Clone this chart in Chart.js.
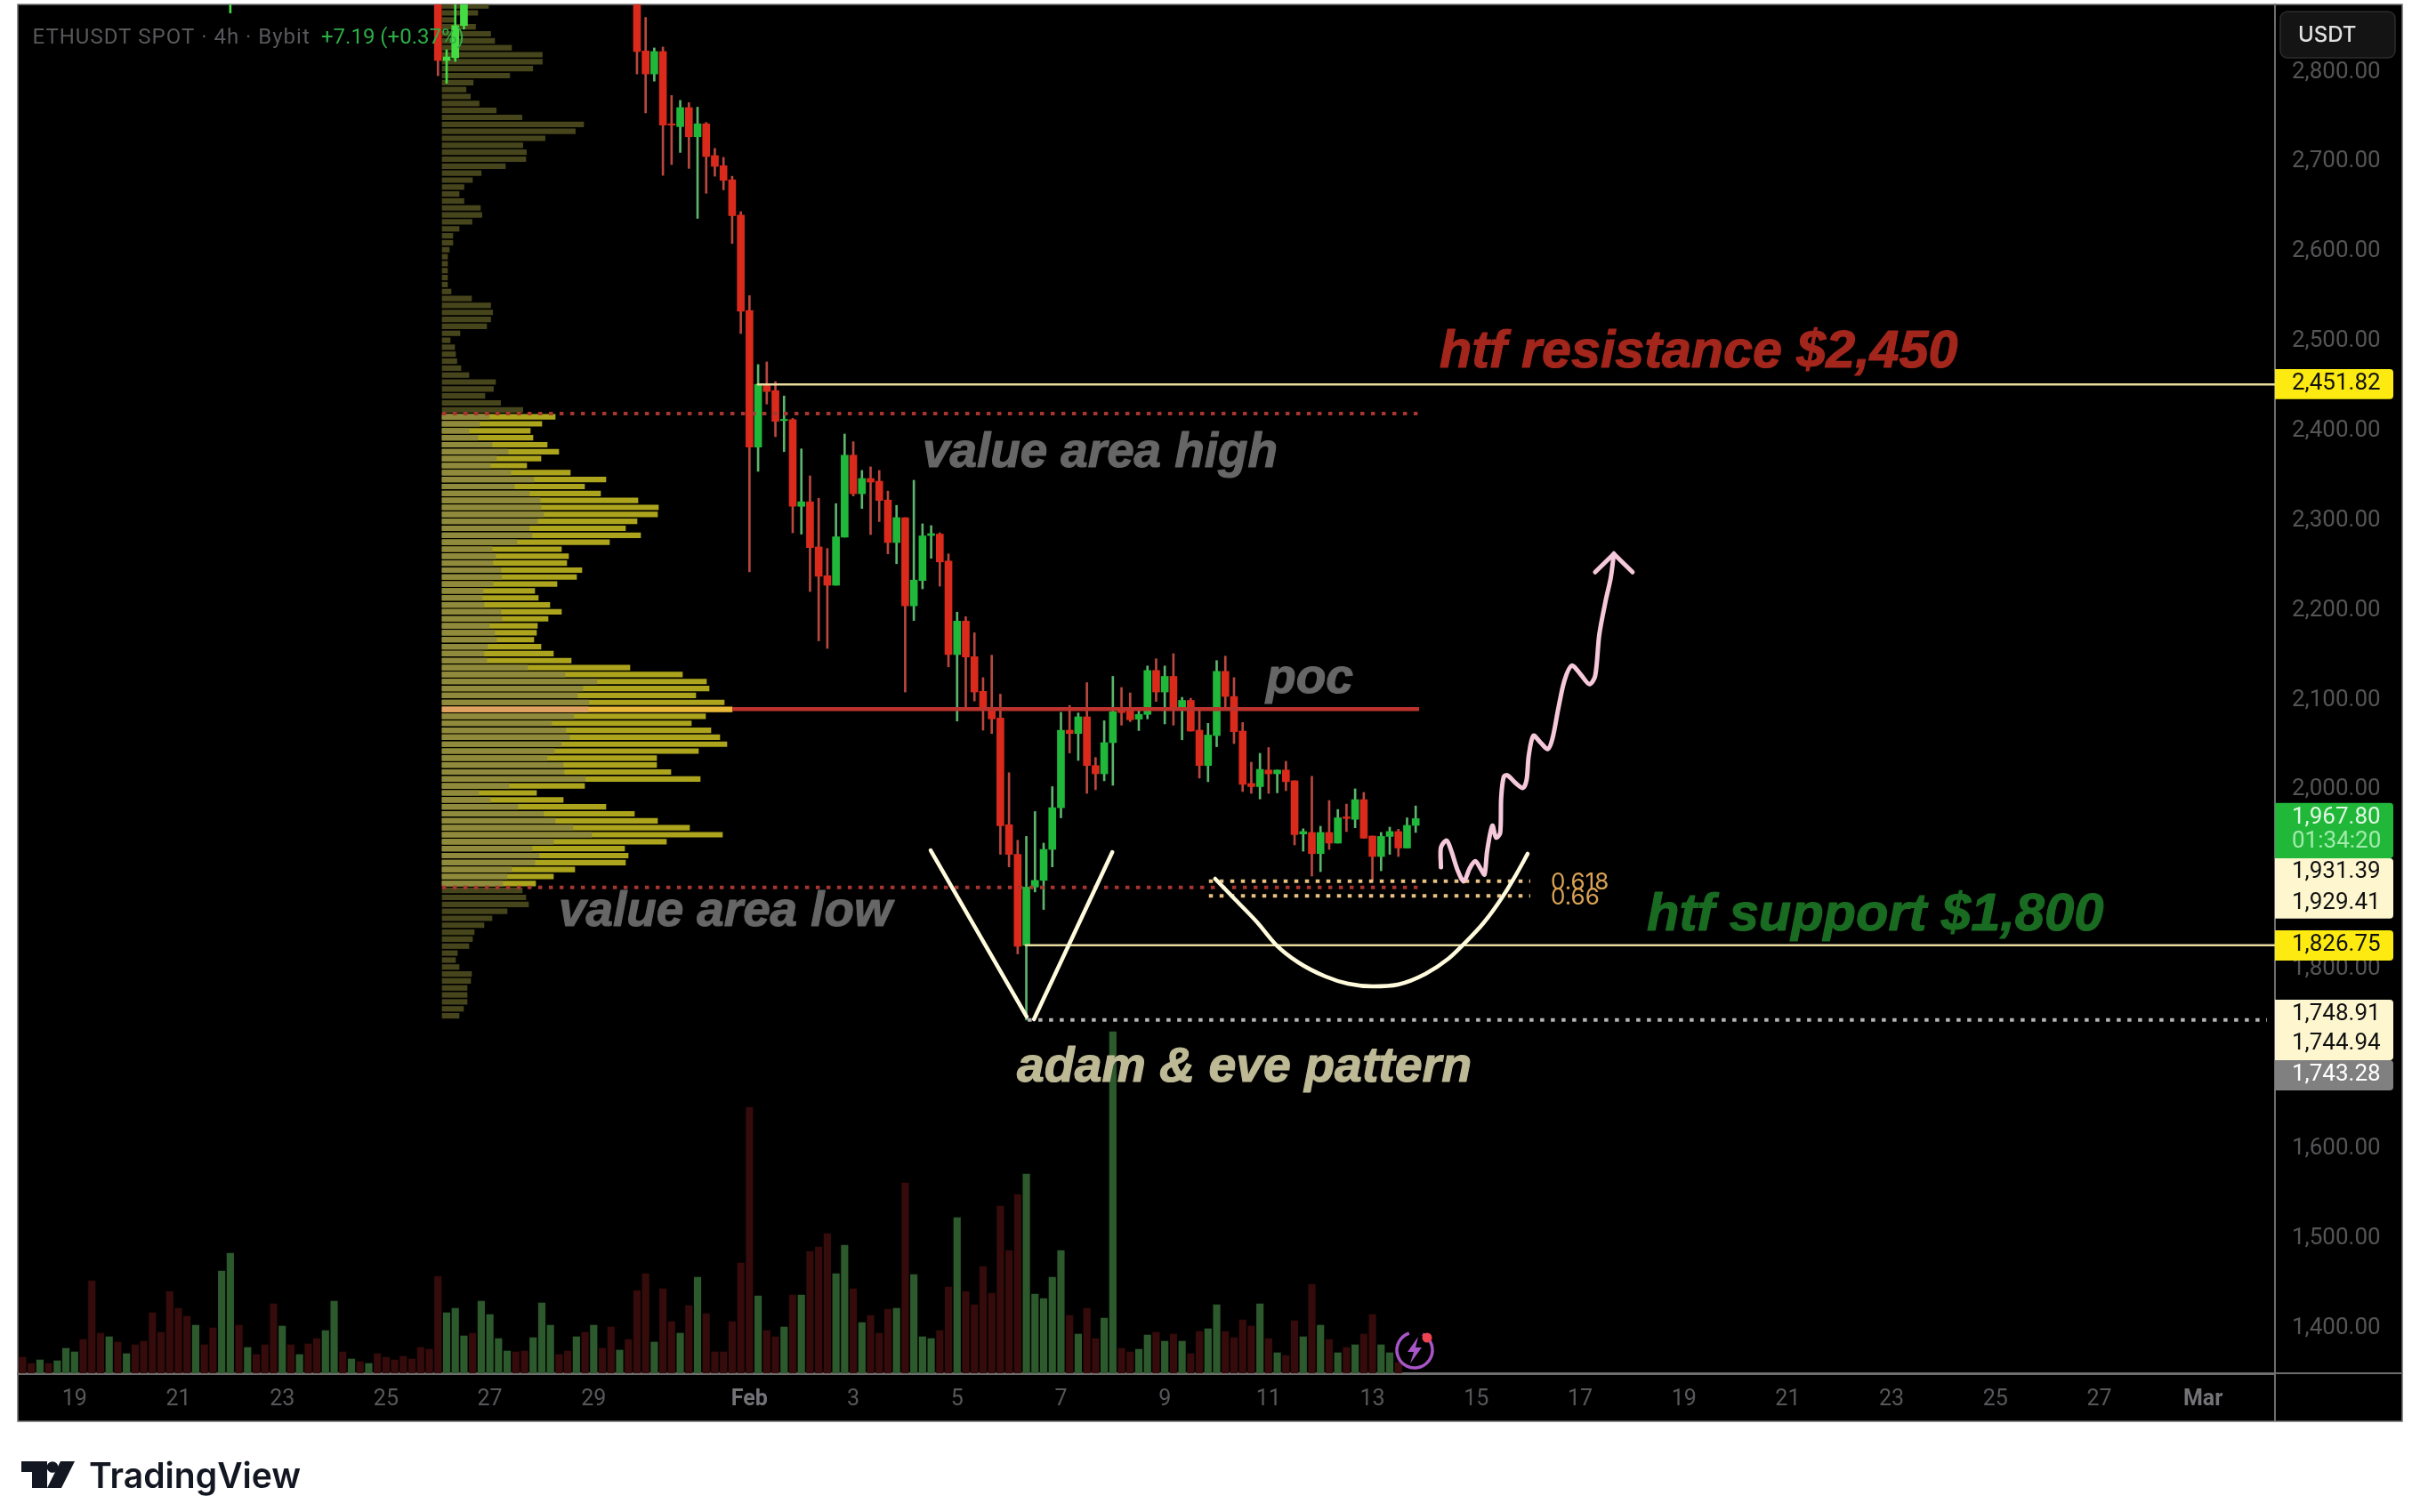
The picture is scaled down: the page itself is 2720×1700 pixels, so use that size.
<!DOCTYPE html>
<html>
<head>
<meta charset="utf-8">
<title>ETHUSDT 4h</title>
<style>html,body{margin:0;padding:0;background:#fff}canvas{display:block}</style>
<script src="https://cdn.jsdelivr.net/npm/chart.js@4/dist/chart.umd.js"></script>
</head>
<body>
<canvas id="c" width="2720" height="1700"></canvas>
<script>
// ---- time axis (days after 19 Jan; a bar is 4h) ----
const tickDays = [0,2,4,6,8,10,13,15,17,19,21,23,25,27,29,31,33,35,37,39,41];
const tickLabels = ['19','21','23','25','27','29','Feb','3','5','7','9','11','13','15','17','19','21','23','25','27','Mar'];
const priceTicks = [1400,1500,1600,1700,1800,1900,2000,2100,2200,2300,2400,2500,2600,2700,2800];
const barsPerDay = 6, firstBarOffset = 6;

// ---- candles ----
const candleBars = [24,48,49,50,51,71,72,73,74,75,76,77,78,79,80,
 81,82,83,84,85,86,87,88,89,90,91,92,93,94,95,96,97,98,99,100,
 101,102,103,104,105,106,107,108,109,110,111,112,113,114,115,116,117,118,119,120,
 121,122,123,124,125,126,127,128,129,130,131,132,133,134,135,136,137,138,139,140,
 141,142,143,144,145,146,147,148,149,150,151,152,153,154,155,156,157,158,159,160,161];
const opens = [2900,2895,2813,2816,2852,
 2940,2823.6,2798,2823,2742.4,2739.3,2760.5,2728,2742.4,2707,
 2695.7,2680,2640.6,2534.4,2382,2452,2445,2411.5,2412.5,2316,
 2321,2270.7,2238.6,2228,2281.6,2373,2330,2347,2344,2323,
 2275.6,2303.4,2205,2233.3,2283.5,2285,2255,2150.7,2188,2148.4,
 2109.7,2090.5,2080,1961,1928,1826.5,1891.5,1899,1933.5,1980,
 2066.4,2062.7,2081.3,2027,2017.8,2052.5,2089.8,2088,2078.7,2084,
 2133,2109,2126.4,2091.6,2099.6,2066.4,2027,2060.4,2132,2104,
 2065.4,2007,2003.5,2022,2017.8,2022,2010,1950.7,1952.4,1928.8,
 1952.4,1940.5,1969.8,1967,1989,1948.4,1925.6,1948,1953.4,1935,
 1960.3];
const closes = [2960,2813,2817,2852,2880,
 2823,2798,2823,2741,2741,2760.5,2728,2742.4,2706,2695,
 2679.4,2640,2533.6,2382,2452,2444,2410.7,2413,2316,2321,
 2270,2238,2228,2282,2373,2330,2347,2343,2322.5,2275.6,
 2303.4,2205,2233.7,2283,2285.5,2254,2150.7,2188,2148,2109,
 2090.5,2079,1960,1928,1825.5,1891.5,1899,1933.5,1980,2066.4,
 2062.7,2081.3,2027,2017.8,2052.5,2087,2086,2078,2084,2133,
 2109,2126.4,2089.8,2099.6,2065.4,2027,2061,2132,2104,2064.8,
 2006,2003.5,2022.7,2017.8,2022,2009,1950,1953.4,1928.8,1952.4,
 1940.5,1968.7,1968,1989,1946,1925.6,1948,1953.4,1935,1960.3,
 1967.8];
const highs = [2980,2930,2825,2890,2900,
 2950,2861,2827,2828,2774,2768.5,2766,2761,2744,2715,
 2705,2684,2644.5,2551,2474,2477,2455,2439,2414,2380,
 2350,2325,2269,2319,2396.6,2388,2356,2360,2356,2333,
 2317,2303.4,2345,2296.5,2294.5,2286.5,2263,2198,2193,2175,
 2125,2150,2106.6,2019,1943.7,1948,1975.7,1940.5,2003.5,2086.3,
 2094,2085.6,2119.4,2036,2077,2126.4,2114,2108,2090,2138,
 2146,2138,2151.7,2103,2102,2090,2074,2144,2149,2125,
 2075,2030.7,2040.6,2047,2022,2031.7,2010,1956.5,2015,1959.3,
 1988,1978,1984,2001,1997,1948.4,1952.4,1958.3,1956,1968.7,
 1982];
const lows = [2866,2796,2787.5,2812,2848,
 2798,2754.6,2790,2685,2697,2710.5,2692.7,2637,2665,2684,
 2668.8,2609,2508.6,2243,2355,2430,2393.6,2377,2286.5,2285,
 2221,2166,2157.6,2228,2281.6,2327.5,2313.6,2284.5,2299,2263,
 2252,2109,2188.7,2224,2258,2227,2137,2076.6,2090,2099,
 2066.4,2062.7,1928,1914,1817,1743.3,1886,1866.5,1914,1968.7,
 2041,2032.7,1996,2000,2010,2005,2072,2076,2066,2079,
 2098.5,2073.4,2072,2055.7,2065.4,2013,2009,2048,2090,2051.5,
 1998,1996,1989.7,1996,1996.6,1999,1938.5,1931.5,1903.8,1908.7,
 1933.5,1940.5,1953.4,1957.6,1946,1897.8,1909.7,1928,1925.6,1935,
 1952.4];

// ---- volume, one bar per 4h from bar 0 ----
const volumes = [18,11,15,11,14,28,24,38,104,45,41,35,22,32,36,68,46,92,73,64,
 54,32,51,115,135,54,29,21,32,78,53,32,21,33,39,48,81,24,16,13,
 11,22,18,15,19,16,29,27,109,68,73,42,45,81,66,39,25,24,25,40,
 79,54,21,25,41,46,54,28,52,26,38,93,112,35,95,58,45,76,108,67,
 24,24,58,124,299,87,48,41,52,88,88,137,142,157,112,144,95,57,65,45,
 72,73,214,111,41,39,48,97,175,92,77,120,90,188,138,201,224,89,84,108,
 138,65,44,73,39,62,384,28,24,27,43,46,36,44,36,22,47,50,77,47,
 40,60,53,78,39,23,20,59,41,100,54,38,23,29,32,44,66,32,23,12];
const volumeUp = [0,0,1,0,1,1,1,0,0,0, 1,0,1,0,0,0,0,0,0,0, 1,0,0,1,1,0,1,0,0,0, 1,0,1,0,0,1,1,0,1,0,
 1,0,0,0,0,0,0,0,0,1, 1,1,0,1,1,1,1,0,0,1, 1,1,0,0,1,0,1,0,0,1, 0,0,0,1,0,0,1,0,1,0,
 0,0,0,0,0,1,0,0,1,0, 1,0,0,0,1,1,0,1,0,0, 0,1,0,1,1,1,0,0,1,0, 0,0,0,0,0,0,1,1,1,1,
 1,0,1,0,0,1,1,0,0,1, 1,0,1,0,1,0,0,1,1,0, 0,0,0,1,0,1,0,0,1,0, 1,0,1,0,1,0,0,1,1,0];

// ---- volume profile, top bin to bottom bin ----
const profileTopPrice = 2873.8, profileBinSize = 7.764;
const profileTotals = [52,40,14,37.5,54.5,59,78,112.5,112.5,101.8,75.9,34.8,26.8,31.7,41.5,60.7,89.7,159,149.6,115.6,
 90.6,94.6,94,71,43.8,34,24.5,19,24.5,43,44.6,33.5,19,12,12,8,6,6,6,6,
 6,10,33,54.5,56.7,54.5,50,20,9,14,15,16.5,21,30,60,57.6,48,65.6,90.6,
 127,112,99,102,118,131,111,95,144,184,160,178,220,243,242,219,206,223,188,134,
 142,140,157,151,129,104,108,121,134,119,107,106,103,111,125,145,211,270,297,300,
 285,317,326,296,280,302,312,320,288,241,241,257,290,160,106,136,184,216,242,278,
 315,252,205,209,206,149,125,105,
 90,94,97,73,56,47,36,34,30,17,15,19,33,32,28,28,28,24,19];
const profileBuy = [53,42,30,40,56,74,61,54,77,103,81,98,110,111,114,107,98,101,84,56,
 60,57,66,67,57,46,45,47,66,67,53,59,61,51,47,50,96,138,174,158,
 152,165,164,148,123,139,143,134,126,118,136,137,161,75,41,54,85,114,127,147,
 168,125,101,109,104,78,73,68];
const valueAreaFirstBin = 59, pocBin = 101;

// ---- levels ----
const resistancePrice = 2451.82, supportPrice = 1826.75, lowPrice = 1743.28;
const valueAreaHigh = 2419.4, valueAreaLow = 1891.2, pocPrice = 2090;
const fib618Price = 1898, fib66Price = 1881.7;
const axisDayMin = -1.0934, axisDayMax = 42.385, axisPriceMin = 1349.5, axisPriceMax = 2875.5;

// ---- hand drawn shapes, [day, price] ----
const adamLeft = [[16.49,1932.5],[18.34,1747.1]];
const adamRight = [[18.48,1744.1],[19.99,1930.5]];
const eveCurve = [[21.97,1900.8],[22.35,1878],[22.78,1852.2],[23.14,1827.4],[23.57,1807.6],[24.10,1791.7],[24.53,1783.8],[25.01,1780.8],
 [25.49,1782.8],[26.02,1794.7],[26.46,1811.5],[26.75,1827.4],[27.15,1852.2],[27.51,1881],[27.77,1905.7],[27.99,1928.6]];
const forecastPath = [[26.32,1913.7],[26.32,1935.8],[26.43,1943.4],[26.52,1931.8],[26.64,1910.4],[26.76,1897.8],[26.87,1912],[26.98,1920.3],
 [27.10,1910.4],[27.16,1905.5],[27.21,1931.8],[27.31,1960],[27.38,1946.7],[27.46,1951.7],[27.48,1991.3],[27.53,2014.5],[27.60,2016.1],
 [27.75,2007.9],[27.90,2002],[27.97,2011.2],[28.01,2037.6],[28.10,2060.2],[28.24,2052.5],[28.38,2045.3],[28.47,2057.5],[28.58,2090.5],
 [28.70,2122],[28.84,2138.5],[29.01,2128.6],[29.18,2117.7],[29.29,2126.9],[29.37,2173.2],[29.50,2212.9],[29.59,2236],[29.65,2263]];
const forecastArrow = [[29.29,2242.6],[29.65,2263],[30.01,2242.6]];

// ---- texts ----
const annotationTexts = [
 {text:'htf resistance $2,450', left:1618, right:2200, base:413, color:'#a3261c'},
 {text:'value area high', left:1037, right:1436, base:525, color:'#666666'},
 {text:'poc', left:1423, right:1521, base:779, color:'#666666'},
 {text:'value area low', left:628, right:1003, base:1041, color:'#666666'},
 {text:'htf support $1,800', left:1851, right:2364, base:1046, color:'#1a6b22'},
 {text:'adam & eve pattern', left:1143, right:1654, base:1216, color:'#bdb995'}
];
const priceTags = [
 {top:415, bottom:448.7, fill:'#fcea10', rows:[['2,451.82',431.5,'#111']]},
 {top:902.7, bottom:965, fill:'#21b83a', rows:[['1,967.80',919,'#e2f7e3'],['01:34:20',946.7,'#a3ebac']]},
 {top:965, bottom:1032.7, fill:'#fdf6cf', rows:[['1,931.39',980.7,'#111'],['1,929.41',1015,'#111']]},
 {top:1046, bottom:1080, fill:'#fcea10', rows:[['1,826.75',1062.7,'#111']]},
 {top:1124, bottom:1192, fill:'#fdf6cf', rows:[['1,748.91',1140,'#111'],['1,744.94',1173,'#111']]},
 {top:1192, bottom:1226, fill:'#808080', rows:[['1,743.28',1208,'#fff']]}
];

const RED='#d92a1c', GREEN='#1fb83a', WICK_RED='#b8483f', WICK_GREEN='#5cb56e';
const isUp = i => closes[i] >= opens[i];
const barDay = b => (b - firstBarOffset) / barsPerDay;
const pts = a => a.map(p => ({x:p[0], y:p[1]}));
const profilePrice = i => profileTopPrice - i * profileBinSize;

const lineSet = (data, color, width, extra) => Object.assign({
  type:'line', data, borderColor:color, borderWidth:width, pointRadius:0, fill:false,
  xAxisID:'x', yAxisID:'y', tension:0, order:2, borderCapStyle:'round'
}, extra || {});
const dotted = {borderDash:[4.5,7.5], borderCapStyle:'butt'};

const datasets = [
  // drawings
  lineSet(pts(adamLeft),'#fffbdc',4.5,{order:0}),
  lineSet(pts(adamRight),'#fffbdc',4.5,{order:0}),
  lineSet(pts(eveCurve),'#fffbdc',4.5,{order:0,cubicInterpolationMode:'monotone'}),
  lineSet(pts(forecastPath),'#f5c8da',5,{order:0,tension:0.3,borderJoinStyle:'round'}),
  lineSet(pts(forecastArrow),'#f5c8da',5,{order:0}),
  // levels
  lineSet([{x:13.16,y:resistancePrice},{x:axisDayMax,y:resistancePrice}],'#e8dd9f',2.5),
  lineSet([{x:18.32,y:supportPrice},{x:axisDayMax,y:supportPrice}],'#e8dd9f',2.5),
  lineSet([{x:18.36,y:lowPrice},{x:42.23,y:lowPrice}],'#b4b4b4',4,dotted),
  lineSet([{x:7.08,y:valueAreaHigh},{x:25.87,y:valueAreaHigh}],'#a8362f',4,dotted),
  lineSet([{x:7.08,y:valueAreaLow},{x:25.87,y:valueAreaLow}],'#a8362f',4,dotted),
  lineSet([{x:12.67,y:pocPrice},{x:25.9,y:pocPrice}],'#bb332c',4.5,{borderCapStyle:'butt'}),
  lineSet([{x:21.85,y:fib618Price},{x:28.04,y:fib618Price}],'#e8c284',4,dotted),
  lineSet([{x:21.85,y:fib66Price},{x:28.04,y:fib66Price}],'#e8c284',4,dotted),
  // candles
  {type:'bar', order:3, grouped:false, barThickness:8, xAxisID:'x', yAxisID:'y',
   data:candleBars.map((b,i)=>({x:barDay(b), y:[opens[i],closes[i]]})),
   backgroundColor:candleBars.map((b,i)=> isUp(i) ? (b<60?'#43dc43':GREEN) : RED)},
  {type:'bar', order:4, grouped:false, barThickness:2, xAxisID:'x', yAxisID:'y',
   data:candleBars.map((b,i)=>({x:barDay(b), y:[lows[i],highs[i]]})),
   backgroundColor:candleBars.map((b,i)=> isUp(i) ? (b<60?'#43dc43':WICK_GREEN) : WICK_RED)},
  // profile
  {type:'bar', indexAxis:'y', order:5, grouped:false, barThickness:5.5, xAxisID:'xp', yAxisID:'y',
   data:profileBuy.map((v,i)=>({x:v, y:profilePrice(i+valueAreaFirstBin)})),
   backgroundColor:profileBuy.map((v,i)=> i+valueAreaFirstBin===pocBin ? '#e0a262' : '#8f8a3c')},
  {type:'bar', indexAxis:'y', order:6, grouped:false, barThickness:5.5, xAxisID:'xp', yAxisID:'y',
   data:profileTotals.map((v,i)=>({x:v, y:profilePrice(i)})),
   backgroundColor:profileTotals.map((v,i)=> i===pocBin ? '#e8b838' :
     (i>=valueAreaFirstBin && i<valueAreaFirstBin+profileBuy.length ? '#aca41c' : '#46451b'))},
  // volume
  {type:'bar', order:7, grouped:false, barThickness:7.5, xAxisID:'x', yAxisID:'yv',
   data:volumes.map((v,i)=>({x:barDay(i), y:v})),
   backgroundColor:volumes.map((v,i)=> volumeUp[i] ? '#2d5a2d' : '#360b0b')}
];

function fitText(ctx, item){
  const probe = 100;
  ctx.font = 'italic bold '+probe+'px "Liberation Sans"';
  const w = ctx.measureText(item.text).width;
  const size = probe * (item.right-item.left) / w;
  ctx.font = 'italic bold '+size.toFixed(1)+'px "Liberation Sans"';
}
function roundRect(ctx,x,y,w,h,r){ctx.beginPath();ctx.roundRect(x,y,w,h,r);}

const panelPlugin = {
  id:'panel',
  beforeDraw(chart){
    const c = chart.ctx;
    c.save();
    c.fillStyle='#ffffff'; c.fillRect(0,0,2720,1700);
    c.fillStyle='#000000'; c.fillRect(20,5,2680,1593);
    c.strokeStyle='#707070'; c.lineWidth=1.5; c.strokeRect(20,5,2680,1593);
    c.restore();
  },
  afterDatasetsDraw(chart){
    const c = chart.ctx;
    c.save();
    c.textBaseline='alphabetic'; c.textAlign='left';
    c.font='24px Roboto';
    c.letterSpacing='1px';
    c.fillStyle='#58585c';
    c.fillText('ETHUSDT SPOT · 4h · Bybit',36.5,49);
    c.letterSpacing='0px';
    c.fillStyle='#2eae46';
    c.fillText('+7.19 (+0.37%)',361,49);
    c.lineJoin='round'; c.lineWidth=1.2;
    annotationTexts.forEach(t=>{
      fitText(c,t); c.fillStyle=t.color; c.strokeStyle=t.color;
      c.fillText(t.text,t.left,t.base); c.strokeText(t.text,t.left,t.base);
    });
    c.font='26px Inter'; c.fillStyle='#d9a254';
    c.fillText('0.618',1743,1000);
    c.fillText('0.66',1743,1017);
    // lightning badge
    c.strokeStyle='#a855c8'; c.lineWidth=3.5;
    c.beginPath(); c.arc(1590,1518,20,-Math.PI*0.35,-Math.PI*0.6+Math.PI*2); c.stroke();
    c.fillStyle='#a855c8';
    c.beginPath();c.moveTo(1594,1503);c.lineTo(1582,1520);c.lineTo(1589,1520);c.lineTo(1585,1533);c.lineTo(1598,1515);c.lineTo(1591,1515);c.closePath();c.fill();
    c.fillStyle='#ee4452'; c.beginPath(); c.arc(1604,1504,5.5,0,Math.PI*2); c.fill();
    c.restore();
  },
  afterDraw(chart){
    const c = chart.ctx;
    c.save();
    // axis rules running on to the panel edge
    c.strokeStyle='#6e6e6e'; c.lineWidth=2;
    c.beginPath(); c.moveTo(2557,1544); c.lineTo(2557,1598); c.moveTo(2557,1544); c.lineTo(2699,1544); c.stroke();
    // price tags
    c.textBaseline='middle'; c.textAlign='left'; c.font='26px Roboto';
    priceTags.forEach(t=>{
      c.fillStyle=t.fill; roundRect(c,2557,t.top,133,t.bottom-t.top,[0,4,4,0]); c.fill();
      t.rows.forEach(r=>{ c.fillStyle=r[2]; c.fillText(r[0],2576,r[1]); });
    });
    // currency button
    c.fillStyle='#141414'; c.strokeStyle='#2c2c2c'; c.lineWidth=1.5;
    roundRect(c,2563,13,129,52,8); c.fill(); c.stroke();
    c.fillStyle='#e0e0e0'; c.font='500 24px Inter'; c.fillText('USDT',2583,40);
    // TradingView logo
    c.fillStyle='#131722';
    c.fillRect(24,1643,29,12); c.fillRect(36,1643,17,30);
    c.beginPath(); c.arc(59,1649.5,6.3,0,Math.PI*2); c.fill();
    c.beginPath(); c.moveTo(68,1643); c.lineTo(84,1643); c.lineTo(69,1673); c.lineTo(53,1673); c.closePath(); c.fill();
    c.textBaseline='alphabetic';
    c.font='600 44px Inter';
    const w=c.measureText('TradingView').width;
    const size=44*238/w;
    c.font='600 '+size.toFixed(1)+'px Inter';
    c.fillText('TradingView',100,1673);
    c.restore();
  }
};

new Chart(document.getElementById('c'),{
  type:'bar',
  data:{datasets},
  plugins:[panelPlugin],
  options:{
    responsive:false, animation:false, devicePixelRatio:1,
    layout:{padding:{left:20,top:5,right:20,bottom:102}},
    plugins:{legend:{display:false},tooltip:{enabled:false},title:{display:false}},
    scales:{
      x:{type:'linear',axis:'x',position:'bottom',offset:false,min:axisDayMin,max:axisDayMax,
         grid:{display:false,drawTicks:false},
         border:{display:true,color:'#6e6e6e',width:3},
         afterBuildTicks(a){a.ticks=tickDays.map(v=>({value:v}));},
         afterFit(a){a.height=54;a.paddingLeft=0;a.paddingRight=0;},
         ticks:{autoSkip:false,maxRotation:0,minRotation:0,padding:15,
           callback:(v,i)=>tickLabels[i],
           color:ctx=>(ctx.index===6||ctx.index===20)?'#737378':'#58585c',
           font:ctx=>({family:'Roboto',size:25,weight:(ctx.index===6||ctx.index===20)?'700':'400'})}},
      y:{type:'linear',axis:'y',position:'right',offset:false,min:axisPriceMin,max:axisPriceMax,
         grid:{display:false,drawTicks:false},
         border:{display:true,color:'#6e6e6e',width:2},
         afterBuildTicks(a){a.ticks=priceTicks.map(v=>({value:v}));},
         afterFit(a){a.width=143;a.paddingTop=0;a.paddingBottom=0;},
         ticks:{padding:19,autoSkip:false,color:'#555558',font:{family:'Roboto',size:26},
           callback:v=>v.toLocaleString('en-US',{minimumFractionDigits:2,maximumFractionDigits:2})}},
      yv:{type:'linear',axis:'y',display:false,offset:false,min:0,max:1539,grid:{display:false}},
      xp:{type:'linear',axis:'x',display:false,offset:false,min:-477,max:2060,grid:{display:false}}
    }
  }
});
</script>
</body>
</html>
